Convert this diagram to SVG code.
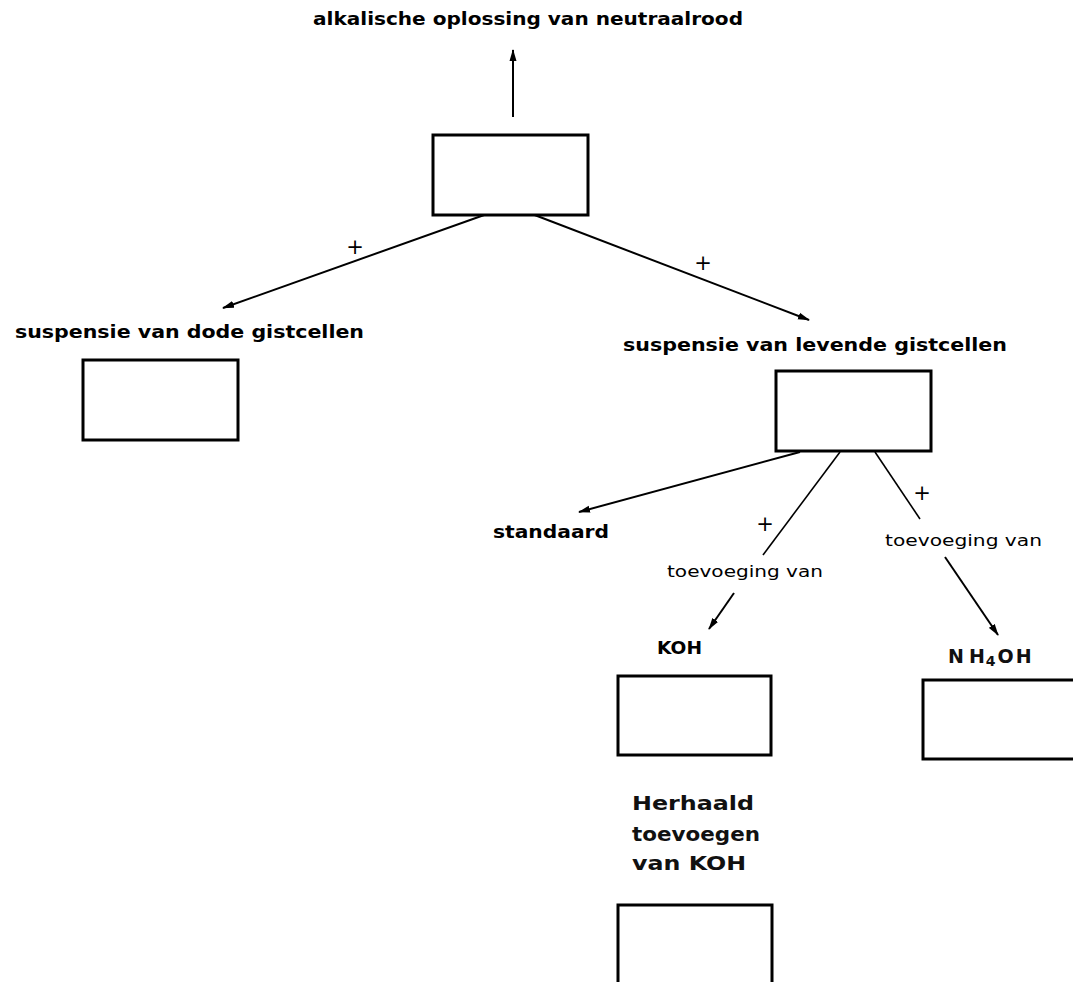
<svg xmlns="http://www.w3.org/2000/svg" width="1073" height="982" viewBox="0 0 1073 982">
<style>
.box{fill:#fff;stroke:#000;stroke-width:3}
.b{font-family:"DejaVu Sans",Verdana,sans-serif;font-weight:bold;font-size:18px;fill:#000}
.r{font-family:"DejaVu Sans",Verdana,sans-serif;font-size:15.5px;fill:#000}
.h{font-family:"DejaVu Sans",Verdana,sans-serif;font-weight:bold;font-size:19px;fill:#111}
.p{font-family:"DejaVu Sans",sans-serif;font-size:21px;fill:#000;text-anchor:middle}
.c{stroke:#000;stroke-width:2;fill:none}
.t{stroke:#000;stroke-width:1.6;fill:none}
</style>
<defs>
<marker id="ah" viewBox="0 0 12 8" refX="11" refY="4" markerWidth="12" markerHeight="8" markerUnits="userSpaceOnUse" orient="auto">
<path d="M0,0.5 L12,4 L0,7.5 Z" fill="#000"/>
</marker>
</defs>
<rect width="1073" height="982" fill="#fff"/>
<g id="connectors">
<line class="c" x1="513" y1="117" x2="513" y2="50" marker-end="url(#ah)"/>
<line class="c" x1="487" y1="214" x2="223" y2="308" marker-end="url(#ah)"/>
<line class="c" x1="532" y1="214" x2="809" y2="320" marker-end="url(#ah)"/>
<line class="c" x1="800" y1="452" x2="579" y2="512" marker-end="url(#ah)"/>
<line class="t" x1="840" y1="452" x2="763" y2="555"/>
<line class="c" x1="734" y1="593" x2="709" y2="629" marker-end="url(#ah)"/>
<line class="t" x1="875" y1="452" x2="920" y2="519"/>
<line class="c" x1="945" y1="557" x2="998" y2="635" marker-end="url(#ah)"/>
<text class="p" x="355" y="254">+</text>
<text class="p" x="703" y="270">+</text>
<text class="p" x="765" y="531">+</text>
<text class="p" x="922" y="500">+</text>
<text class="r" x="667" y="577" textLength="156" lengthAdjust="spacingAndGlyphs">toevoeging van</text>
<text class="r" x="885" y="546" textLength="157" lengthAdjust="spacingAndGlyphs">toevoeging van</text>
</g>
<g id="node-top">
<text class="b" x="313" y="25" textLength="430" lengthAdjust="spacingAndGlyphs">alkalische oplossing van neutraalrood</text>
<rect class="box" x="433" y="135" width="155" height="80"/>
</g>
<g id="node-dead">
<text class="b" x="15" y="338" textLength="349" lengthAdjust="spacingAndGlyphs">suspensie van dode gistcellen</text>
<rect class="box" x="83" y="360" width="155" height="80"/>
</g>
<g id="node-living">
<text class="b" x="623" y="351" textLength="384" lengthAdjust="spacingAndGlyphs">suspensie van levende gistcellen</text>
<rect class="box" x="776" y="371" width="155" height="80"/>
</g>
<g id="node-standaard">
<text class="b" x="493" y="538" textLength="116" lengthAdjust="spacingAndGlyphs">standaard</text>
</g>
<g id="node-koh">
<text class="b" x="657" y="654" font-size="16" textLength="45" lengthAdjust="spacingAndGlyphs">KOH</text>
<rect class="box" x="618" y="676" width="153" height="79"/>
</g>
<g id="node-nh4oh">
<text class="h" x="948" y="663" font-size="20">N<tspan dx="5">H</tspan><tspan font-size="14" dy="3" dx="1">4</tspan><tspan dy="-3" dx="2">O</tspan><tspan dx="2">H</tspan></text>
<rect class="box" x="923" y="680" width="160" height="79"/>
</g>
<g id="node-repeat">
<text class="h" x="632" y="810" textLength="122" lengthAdjust="spacingAndGlyphs">Herhaald</text>
<text class="h" x="632" y="841" textLength="128" lengthAdjust="spacingAndGlyphs">toevoegen</text>
<text class="h" x="632" y="870" textLength="114" lengthAdjust="spacingAndGlyphs">van KOH</text>
<rect class="box" x="618" y="905" width="154" height="90"/>
</g>
</svg>
